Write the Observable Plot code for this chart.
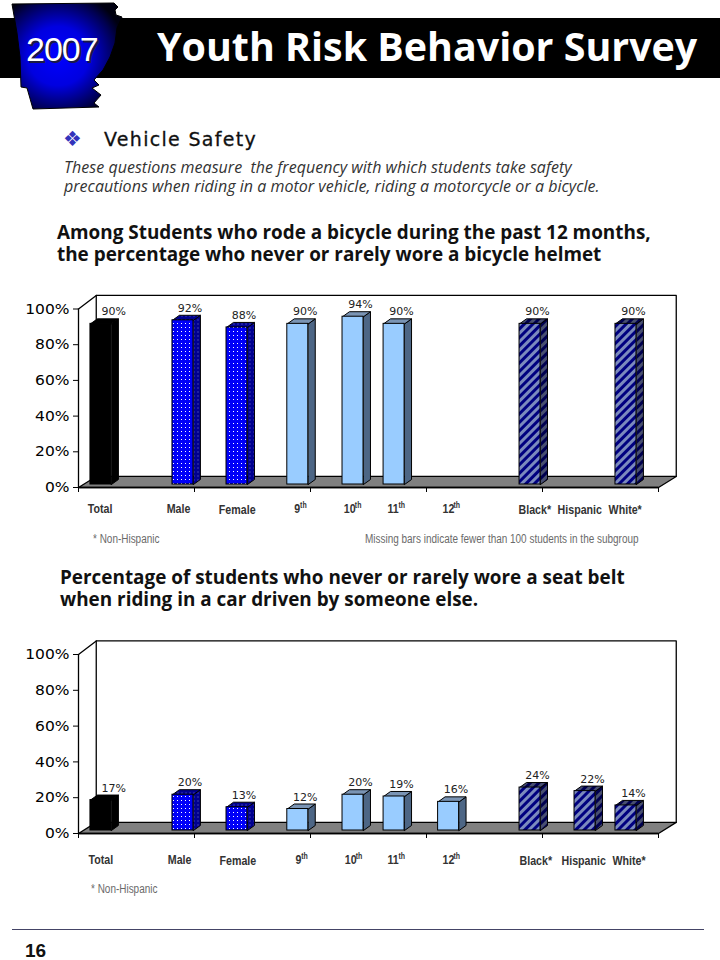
<!DOCTYPE html>
<html><head><meta charset="utf-8">
<script src="https://cdn.jsdelivr.net/npm/d3@7"></script>
<script src="https://cdn.jsdelivr.net/npm/@observablehq/plot@0.6"></script>
<style>
html,body{margin:0;padding:0;background:#fff}
#page{position:relative;width:720px;height:960px;overflow:hidden}
.abs{position:absolute;white-space:pre;line-height:1}
.chart{position:absolute;left:0}
.note{font-family:"Liberation Sans";font-size:12px;color:#6a6a6a;transform:scaleX(.83);transform-origin:left top}
</style></head><body>
<div id="page">
<svg width="0" height="0" style="position:absolute">
<defs>
<pattern id="dots" width="4" height="4" patternUnits="userSpaceOnUse"><rect width="4" height="4" fill="#0000f8"/><rect x="1" y="1" width="1" height="1" fill="#fff"/></pattern>
<pattern id="dotsSide" width="4" height="4" patternUnits="userSpaceOnUse"><rect width="4" height="4" fill="#000090"/><rect x="1" y="1" width="1" height="1" fill="#7777cc"/></pattern>
<pattern id="stripes" width="6" height="6" patternUnits="userSpaceOnUse" patternTransform="rotate(45)"><rect width="6" height="6" fill="#000080"/><rect width="3" height="6" fill="#7b8abd"/></pattern>
<pattern id="stripesSide" width="6" height="6" patternUnits="userSpaceOnUse" patternTransform="rotate(45)"><rect width="6" height="6" fill="#000050"/><rect width="3" height="6" fill="#484f70"/></pattern>
<radialGradient id="state" cx="0.42" cy="0.5" r="0.62"><stop offset="0" stop-color="#0000ff"/><stop offset="0.45" stop-color="#0000e0"/><stop offset="0.85" stop-color="#000050"/><stop offset="1" stop-color="#000010"/></radialGradient>
</defs></svg>
<div class="abs" style="left:0;top:18px;width:720px;height:60px;background:#000"></div>
<svg class="abs" style="left:0;top:0" width="130" height="115"><polygon fill="url(#state)" stroke="#000" stroke-width="1" points="12,4 114,3 118,7 115,10 116,15 122,17 117,28 115,43 110,57 103,70 94,80 99,85 92,88 101,95 94,103 99,107 33,109 27,88 21,87 20,57 17,33"/></svg>
<div class="abs" style="left:26px;top:30px;font:34px 'Liberation Sans';letter-spacing:-1px;color:#fff;text-shadow:2px 2px 0 #1a1a44">2007</div>
<div class="abs" style="left:157px;top:19px;font:bold 39.4px 'Open Sans';color:#fff">Youth Risk Behavior Survey</div>
<div class="abs" style="left:63px;top:127px;font:21px 'DejaVu Sans';color:#3333bb">❖</div>
<div class="abs" style="left:104px;top:128px;font:19px 'DejaVu Sans';letter-spacing:1.3px;color:#111;-webkit-text-stroke:.3px #111">Vehicle Safety</div>
<div class="abs" style="left:64px;top:158px;font:italic 16px/19px 'Open Sans';letter-spacing:.03px;color:#333">These questions measure  the frequency with which students take safety
precautions when riding in a motor vehicle, riding a motorcycle or a bicycle.</div>
<div class="abs" style="left:57px;top:221px;font:bold 18.9px/22px 'Open Sans';color:#111">Among Students who rode a bicycle during the past 12 months,
the percentage who never or rarely wore a bicycle helmet</div>
<div id="chartA" class="chart" style="top:285px"></div>
<div class="abs note" style="left:93px;top:533px">* Non-Hispanic</div>
<div class="abs note" style="left:365px;top:533px">Missing bars indicate fewer than 100 students in the subgroup</div>
<div class="abs" style="left:60px;top:566px;font:bold 18.9px/22px 'Open Sans';color:#111">Percentage of students who never or rarely wore a seat belt
when riding in a car driven by someone else.</div>
<div id="chartB" class="chart" style="top:630px"></div>
<div class="abs note" style="left:91px;top:883px">* Non-Hispanic</div>
<div class="abs" style="left:12px;top:929px;width:692px;height:1px;background:#446"></div>
<div class="abs" style="left:25px;top:940px;font:bold 19px 'Liberation Sans';color:#111">16</div>
</div>
<script>
// Data
const categories = ["Total","Male","Female","9","10","11","12","Black*","Hispanic","White*"];
const suffixes   = ["","","","th","th","th","th","","",""];
const groups     = ["total","sex","sex","grade","grade","grade","grade","race","race","race"];
const helmetValues   = [90,92,88,90,94,90,null,90,null,90];
const seatBeltValues = [17,20,13,12,20,19,16,24,22,14];
const yTicks = [0,20,40,60,80,100];
const clusterTicks = [0,1,2,3,4,5];

// Layout, in scale units: x is cluster position 0..5, y is percent
const barSlots = [0.103,0.81,1.276,1.80,2.276,2.63,3.10,3.802,4.276,4.629];
const barWidth = 0.181, depthX = 0.06, depthY = 2.8, base = 0;
const labelSlotsA = [0.08,0.76,1.21,1.86,2.287,2.664,3.138,3.793,4.13,4.57];
const labelSlotsB = [0.086,0.77,1.216,1.87,2.295,2.664,3.138,3.802,4.164,4.603];
const suffixShift = [0,0,0,0.05,0.095,0.095,0.095,0,0,0];
const labelDropA = [-11.8,-11.8,-12.4,-11.8,-11.8,-11.8,-11.8,-12.4,-12.4,-12.4];
const labelDropB = [-14.5,-14.5,-15,-14.5,-14.5,-14.5,-14.5,-15,-15,-15];
const valueLabelShift = [0.2,0.15,0.15,0.155,0.155,0.155,0.155,0.155,0.155,0.155];
const wallX = 0.153, wallFloor = 6.2, wallTopFront = 100;

const faces = {
  total:{front:"#000",side:"#000",top:"#000"},
  sex:{front:"url(#dots)",side:"url(#dotsSide)",top:"url(#dotsSide)"},
  grade:{front:"#99ccff",side:"#4d6685",top:"#7a94b4"},
  race:{front:"url(#stripes)",side:"url(#stripesSide)",top:"url(#stripesSide)"}
};

function squeeze(svg, selector, sx){
  svg.querySelectorAll(selector).forEach(t=>{
    t.setAttribute("transform",(t.getAttribute("transform")||"")+` scale(${sx},1)`);
  });
}

function draw(el, values, labelSlots, labelDrop, marginTop, marginBottom, wallTopV){
  const rows = categories.map((c,i)=>({c,s:suffixes[i],g:groups[i],v:values[i],x:barSlots[i],lx:labelSlots[i],ly:labelDrop[i],vs:valueLabelShift[i],sh:suffixShift[i]}));
  const bars = rows.filter(d=>d.v!=null);
  const marks = [];
  // walls and floor
  marks.push(Plot.line([[wallX,wallFloor],[5+wallX,wallFloor],[5,0],[0,0]],{curve:"linear-closed",fill:"#808080",stroke:"#000",strokeWidth:1.3}));
  marks.push(Plot.line([[0,wallTopFront],[wallX,wallTopV],[5+wallX,wallTopV],[5+wallX,wallFloor]],{stroke:"#000",strokeWidth:1.3}));
  marks.push(Plot.line([[wallX,wallTopV],[wallX,wallFloor]],{stroke:"#000",strokeWidth:1.3}));
  marks.push(Plot.ruleX([0],{y1:0,y2:100,stroke:"#000",strokeWidth:1.3}));
  marks.push(Plot.ruleY([0],{x1:0,x2:5,stroke:"#000",strokeWidth:1.3}));
  marks.push(Plot.axisY({ticks:yTicks,tickSize:5,tickPadding:4,tickFormat:d=>d+"%",fontSize:14.5,fontFamily:"DejaVu Sans",label:null,color:"#000",stroke:"#000",className:"yt"}));
  marks.push(Plot.axisX({ticks:clusterTicks,tickSize:5,tickFormat:()=>"",label:null,stroke:"#000"}));
  // bars
  for (const g of Object.keys(faces)) {
    const b = bars.filter(d=>d.g===g), f = faces[g];
    const side = b.flatMap((d,i)=>[[d.x+barWidth,base],[d.x+barWidth+depthX,base+depthY],[d.x+barWidth+depthX,d.v+depthY],[d.x+barWidth,d.v]].map(p=>({p,i})));
    const top = b.flatMap((d,i)=>[[d.x,d.v],[d.x+depthX,d.v+depthY],[d.x+barWidth+depthX,d.v+depthY],[d.x+barWidth,d.v]].map(p=>({p,i})));
    const common = {z:"i",curve:"linear-closed",stroke:"#000",strokeWidth:1,dy:-3};
    marks.push(Plot.line(side,{x:d=>d.p[0],y:d=>d.p[1],fill:f.side,...common}));
    marks.push(Plot.line(top,{x:d=>d.p[0],y:d=>d.p[1],fill:f.top,...common}));
    marks.push(Plot.rect(b,{x1:"x",x2:d=>d.x+barWidth,y1:base,y2:"v",fill:f.front,stroke:"#000",strokeWidth:1,dy:-3}));
  }
  // value labels
  marks.push(Plot.text(bars,{x:d=>d.x+d.vs,y:"v",text:d=>d.v+"%",dy:-15,fontFamily:"DejaVu Sans",fontSize:11,fill:"#222"}));
  // category labels
  const labelFont = {fontFamily:"Liberation Sans",fontWeight:"bold",textAnchor:"start",className:"cat"};
  marks.push(Plot.text(rows,{x:"lx",y:"ly",text:"c",fontSize:13,fill:"#333",...labelFont}));
  marks.push(Plot.text(rows,{x:d=>d.lx+d.sh,y:"ly",text:"s",dy:-3,fontSize:8.5,fill:"#333",...labelFont}));
  const svg = Plot.plot({width:720,height:270,marginLeft:78,marginRight:62,marginTop,marginBottom,
    x:{domain:[0,5]},y:{domain:[0,100]},style:{background:"transparent",overflow:"visible"},marks});
  squeeze(svg,".cat text",0.82);
  squeeze(svg,'g[aria-label="y-axis tick label"] text',1.07);
  document.querySelector(el).append(svg);
}
draw("#chartA",helmetValues,labelSlotsA,labelDropA,23.5,68,107.6);
draw("#chartB",seatBeltValues,labelSlotsB,labelDropB,24,67,107.6);
</script>
</body></html>
